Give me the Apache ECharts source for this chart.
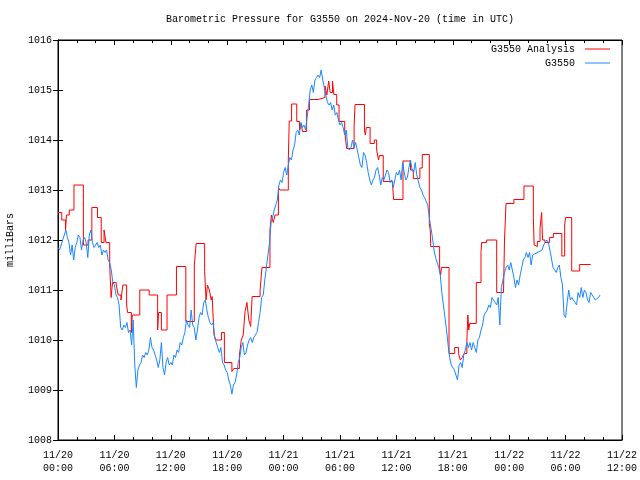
<!DOCTYPE html>
<html>
<head>
<meta charset="utf-8">
<script src="https://cdn.jsdelivr.net/npm/echarts@6/dist/echarts.min.js"></script>
<style>html,body{margin:0;padding:0;background:#fff}#c{width:640px;height:480px}</style>
</head>
<body>
<div id="c"></div>
<script>
// ---- data ----
var titleText = 'Barometric Pressure for G3550 on 2024-Nov-20 (time in UTC)';
var yAxisName = 'milliBars';
var seriesNames = ['G3550 Analysis', 'G3550'];
var xTickLabels = ['11/20\n00:00','11/20\n06:00','11/20\n12:00','11/20\n18:00','11/21\n00:00','11/21\n06:00','11/21\n12:00','11/21\n18:00','11/22\n00:00','11/22\n06:00','11/22\n12:00'];
var yTickLabels = ['1008','1009','1010','1011','1012','1013','1014','1015','1016'];

// Analysis (hours since 11/20 00:00 UTC, value held until next time)
var analysisHours = [0.0,0.4,0.8,0.9,1.2,1.7,2.7,3.2,3.6,4.2,4.6,4.9,5.1,5.5,5.65,5.8,6.2,6.4,6.7,6.9,7.3,7.4,7.8,7.9,8.7,9.7,10.6,10.7,11.0,11.6,12.6,13.6,14.5,14.7,15.6,15.75,15.9,16.1,16.3,16.4,16.6,16.8,17.4,17.7,18.5,18.7,19.3,19.5,19.7,19.9,20.1,20.3,20.5,20.65,21.5,21.7,22.55,22.7,22.9,23.1,23.45,23.6,24.5,24.6,24.85,25.4,25.7,25.9,26.0,26.45,26.75,27.7,28.4,28.6,28.8,28.95,29.2,29.35,29.65,29.9,30.5,30.7,31.5,31.6,32.6,32.7,32.8,33.2,33.65,33.9,34.1,34.2,34.6,35.6,35.7,36.7,37.5,37.8,38.5,38.75,39.5,39.6,39.65,40.6,40.7,40.8,41.6,42.2,42.6,42.8,43.0,43.2,43.5,43.6,43.7,43.8,44.5,45.0,45.07,45.6,46.67,47.4,47.5,47.66,48.5,49.57,50.57,50.65,50.8,51.0,51.28,51.45,51.55,51.8,52.3,52.7,53.6,53.9,54.0,54.65,55.5,56.67];
var analysisValues = [1012.55,1012.4,1012.2,1012.5,1012.6,1013.1,1011.9,1012.0,1012.65,1012.45,1011.95,1012.2,1011.95,1011.5,1010.85,1011.15,1011.1,1010.9,1010.8,1011.1,1010.7,1010.55,1010.15,1010.5,1011.0,1010.9,1010.2,1010.55,1010.2,1010.9,1011.47,1010.37,1011.5,1011.93,1011.37,1010.8,1011.1,1011.0,1010.8,1010.87,1010.1,1010.0,1010.15,1009.55,1009.37,1009.43,1009.7,1010.0,1010.1,1010.57,1010.75,1010.4,1010.27,1010.87,1011.0,1011.45,1012.2,1012.5,1012.35,1012.5,1013.05,1013.0,1013.6,1014.38,1014.72,1014.37,1014.2,1014.33,1014.17,1014.6,1014.81,1014.85,1015.08,1014.9,1015.18,1014.95,1015.18,1014.91,1014.7,1014.37,1014.2,1013.83,1014.27,1014.71,1014.2,1014.1,1014.25,1013.93,1014.0,1013.8,1013.6,1013.69,1013.17,1013.1,1012.81,1013.58,1013.4,1013.23,1013.44,1013.71,1012.33,1012.2,1011.87,1011.43,1011.3,1011.45,1009.73,1009.85,1009.73,1009.6,1009.65,1009.73,1010.0,1010.5,1010.2,1010.33,1011.15,1011.77,1011.95,1012.0,1010.95,1011.0,1012.0,1012.73,1012.81,1013.08,1012.45,1011.9,1011.87,1011.97,1012.23,1012.55,1012.0,1011.95,1012.05,1012.13,1011.68,1012.3,1012.45,1011.38,1011.51,1011.51];

// Observations every 10 minutes starting 11/20 00:00 (null = missing)
var obsStepMinutes = 10;
var obsValues = [
1011.85,1011.8,1011.9,1012.0,1012.1,1012.2,
1012.05,1011.95,1011.7,1011.9,1011.6,1011.85,
1011.95,1012.1,1012.05,1011.8,1012.0,1012.05,
1011.95,1011.65,1012.1,1012.2,1011.95,1011.85,
1011.9,1011.95,1011.85,1011.9,1011.7,1011.8,
1011.75,1011.8,1011.6,1011.55,1011.4,1011.15,
1011.1,1010.9,1010.85,1010.7,1010.25,1010.2,
1010.3,1010.25,1010.35,1010.15,1010.2,1009.9,
1010.4,1009.5,1009.05,1009.4,1009.5,1009.55,
1009.7,1009.65,1009.75,1009.7,1009.8,1010.05,
1009.85,1009.8,1009.7,1009.6,1009.45,1009.6,
1009.95,1009.45,1009.3,1009.55,1009.65,1009.5,
1009.55,1009.5,1009.7,1009.65,1009.8,1009.75,
1009.95,1009.9,1010.05,1010.15,1010.4,1010.3,
1010.25,1010.6,1010.3,1010.25,1010.0,1010.2,
1010.45,1010.55,1010.5,1010.75,1010.8,1010.6,
1010.45,1010.35,1010.3,1010.35,1010.05,1009.95,
1009.85,1009.75,1009.85,1009.55,1009.5,1009.4,
1009.35,1009.2,1009.1,1008.92,1009.1,1009.15,
1009.3,1009.55,1009.65,1009.85,1009.95,1009.7,
1009.75,1009.9,1010.0,1010.05,1009.95,1010.05,
1010.1,1010.15,1010.35,1010.55,1010.85,1010.9,
1011.2,1011.45,1011.7,1011.95,1012.35,1012.45,
1012.6,1012.7,1012.8,1013.1,1013.2,1013.15,
1013.35,1013.45,1013.3,1013.5,1013.65,1013.6,
1013.8,1013.9,1014.15,1014.2,1014.1,1014.35,
1014.25,1014.3,1014.2,1014.45,1014.7,1015.0,
1015.1,1014.95,1015.2,1015.25,1015.3,1015.25,
1015.4,1015.2,1015.05,1014.9,1014.75,1014.7,
1014.75,1014.6,1014.7,1014.5,1014.55,1014.4,
1014.3,1014.35,1014.25,1014.1,1014.2,1013.85,
1013.8,1013.85,1014.0,1013.85,1013.95,1013.8,
1013.65,1013.5,1013.45,1013.75,1013.7,1013.55,
1013.35,1013.2,1013.1,1013.2,1013.25,1013.4,
1013.45,1013.3,1013.1,1013.25,1013.2,1013.3,
1013.4,1013.35,1013.15,1013.2,1013.05,1013.2,
1013.35,1013.3,1013.4,1013.2,1013.55,1013.35,
1013.2,1013.25,1013.45,1013.6,1013.4,1013.35,
1013.55,1013.3,1013.3,1013.05,1013.0,1012.9,
1012.85,1012.85,1012.7,1012.45,1012.25,1012.05,
1011.8,1011.65,1011.55,1011.45,1011.3,1010.95,
1010.7,1010.45,1010.2,1009.9,1009.65,1009.5,
1009.5,1009.4,1009.3,1009.2,1009.5,1009.55,
1009.45,1009.7,1009.8,1009.95,1009.85,1009.95,
1009.8,1009.95,1009.85,1009.75,1010.0,1010.05,
1010.2,1010.3,1010.5,1010.5,1010.6,1010.7,
1010.65,1010.85,1010.8,1010.75,1010.7,1010.85,
1010.3,1011.05,1011.2,1011.35,1011.45,1011.5,
1011.4,1011.55,1011.4,1011.25,1011.05,1011.2,
1011.1,1011.3,1011.45,1011.6,1011.65,1011.75,
1011.65,1011.75,1011.5,1011.7,null,null,
null,null,null,1011.8,1011.9,1011.95,
1012.0,1011.95,1011.8,1011.8,1011.45,1011.4,
1011.35,1011.45,1011.5,1011.25,1011.1,1010.5,
1010.45,1010.75,1011.0,1010.8,1010.85,1010.8,
1010.75,1010.7,1010.95,1010.85,1011.05,1010.85,
1011.0,1010.95,1010.8,1010.75,1010.95,1010.95,
1010.85,1010.8,1010.8,1010.85,1010.9
];

// ---- build ----
var analysisData = analysisHours.map(function (h, i) { return [h, analysisValues[i]]; });
var obsData = obsValues.map(function (v, i) { return [i * obsStepMinutes / 60, v]; });

var FONT = 'Liberation Mono';
var tickFmtX = function (v) { return xTickLabels[Math.round(v / 6)] || ''; };
var tickFmtY = function (v) { return yTickLabels[Math.round(v - 1008)] || ''; };

function legendFor(name, top) {
  return {data: [name], orient: 'vertical', align: 'right', right: 30, top: top, padding: 0,
    icon: 'rect', itemWidth: 25, itemHeight: 1, itemGap: 6,
    textStyle: {fontFamily: FONT, fontSize: 10, color: '#000', padding: [0, 5, 0, 0]}};
}

var chart = echarts.init(document.getElementById('c'), null, {renderer: 'canvas'});
chart.setOption({
  animation: false,
  backgroundColor: '#fff',
  textStyle: {fontFamily: FONT, color: '#000'},
  title: {
    text: titleText, left: 340, top: 14, padding: 0, textAlign: 'center',
    textStyle: {fontFamily: FONT, fontSize: 10, fontWeight: 'normal', color: '#000'}
  },
  legend: [legendFor(seriesNames[0], 44), legendFor(seriesNames[1], 58)],
  grid: {left: 58, right: 18, top: 40, bottom: 40, containLabel: false, outerBoundsMode: 'none',
         show: true, borderColor: '#000', borderWidth: 1, backgroundColor: 'transparent'},
  xAxis: [{
    type: 'value', min: 0, max: 60, interval: 6, position: 'bottom',
    axisLine: {show: true, lineStyle: {color: '#000', width: 1}},
    axisTick: {show: true, inside: true, length: 5, lineStyle: {color: '#000'}},
    minorTick: {show: true, splitNumber: 3, length: 3, lineStyle: {color: '#000'}},
    splitLine: {show: false},
    axisLabel: {formatter: tickFmtX, fontFamily: FONT, fontSize: 10, color: '#000', margin: 9, lineHeight: 13, showMinLabel: true, showMaxLabel: true}
  }, {
    type: 'value', min: 0, max: 60, interval: 6, position: 'top',
    axisLine: {show: true, lineStyle: {color: '#000', width: 1}},
    axisTick: {show: true, inside: true, length: 5, lineStyle: {color: '#000'}},
    minorTick: {show: true, splitNumber: 3, length: 3, lineStyle: {color: '#000'}},
    splitLine: {show: false}, axisLabel: {show: false}
  }],
  yAxis: [{
    type: 'value', min: 1008, max: 1016, interval: 1, position: 'left',
    name: yAxisName, nameLocation: 'middle', nameRotate: 90, nameGap: 43,
    nameTextStyle: {fontFamily: FONT, fontSize: 10, color: '#000'},
    axisLine: {show: true, lineStyle: {color: '#000', width: 1}},
    axisTick: {show: true, inside: true, length: 5, lineStyle: {color: '#000'}},
    splitLine: {show: false},
    axisLabel: {formatter: tickFmtY, fontFamily: FONT, fontSize: 10, color: '#000', margin: 6}
  }, {
    type: 'value', min: 1008, max: 1016, interval: 1, position: 'right',
    axisLine: {show: true, lineStyle: {color: '#000', width: 1}},
    axisTick: {show: true, inside: true, length: 5, lineStyle: {color: '#000'}},
    splitLine: {show: false}, axisLabel: {show: false}
  }],
  series: [{
    name: seriesNames[0], type: 'line', step: 'end', data: analysisData,
    xAxisIndex: 0, yAxisIndex: 0, symbol: 'none', showSymbol: false,
    color: '#ff0000', lineStyle: {color: '#ff0000', width: 1}
  }, {
    name: seriesNames[1], type: 'line', data: obsData, connectNulls: true,
    xAxisIndex: 0, yAxisIndex: 0, symbol: 'none', showSymbol: false,
    color: '#1a87ff', lineStyle: {color: '#1a87ff', width: 1}
  }]
});
</script>
</body>
</html>
